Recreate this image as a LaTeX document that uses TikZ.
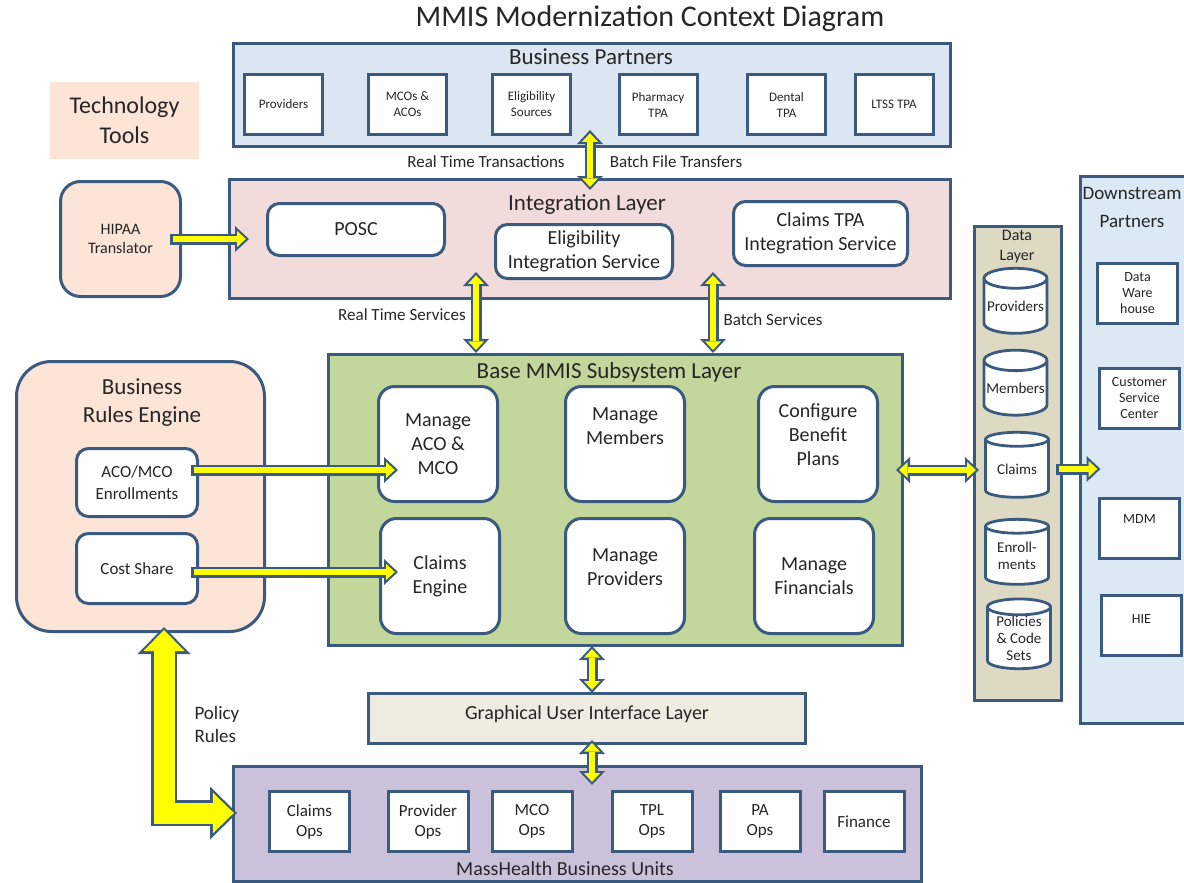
\documentclass[tikz,border=0pt]{standalone}
\usepackage{fontspec}
\setmainfont{Carlito}
\usepackage{tikz}
\usetikzlibrary{positioning}
\usetikzlibrary{arrows.meta}
\usetikzlibrary{shapes.geometric}

\definecolor{edge}{HTML}{3B5A80}
\definecolor{bpblue}{HTML}{DCE6F2}
\definecolor{intpink}{HTML}{F2DCDB}
\definecolor{peach}{HTML}{FCE4D6}
\definecolor{basegreen}{HTML}{C3D69B}
\definecolor{datatan}{HTML}{DDD9C3}
\definecolor{dsblue}{HTML}{DBE9F5}
\definecolor{guigrey}{HTML}{EEECE1}
\definecolor{masspurple}{HTML}{CCC1DA}
\definecolor{arrowyellow}{HTML}{FFFF00}

\newcommand{\fs}[2]{\fontsize{#1}{#2}\selectfont}
% fat block arrow: dark outline first, yellow body on top
\newcommand{\fatarrow}[6]{%
	\draw[#1out, shorten <=#5, shorten >=#6] #2 #3 #4;
	\draw[#1in, shorten <=#5+3pt, shorten >=#6+3.2pt] #2 #3 #4;
}

\begin{document}
\begin{tikzpicture}[x=1pt, y=-1pt,
	every node/.style={text=black!85},
	layer/.style={draw=edge, line width=3pt},
	laytitle/.style={font=\fs{23}{28}},
	lbl/.style={font=\fs{17}{20}},
	item/.style={draw=edge, line width=3pt, fill=white, align=center, inner sep=1pt},
	bpitem/.style={item, minimum width=78pt, minimum height=60pt, font=\fs{13}{16}},
	svc/.style={item, rounded corners=12pt, font=\fs{20}{24}},
	mgr/.style={item, rounded corners=16pt, minimum width=119pt, minimum height=115pt, font=\fs{20}{24}},
	rulebox/.style={item, rounded corners=12pt, minimum width=121pt, font=\fs{17}{22}},
	cyl/.style={cylinder, shape border rotate=90, aspect=0.35, draw=edge, line width=2.8pt, fill=white, minimum width=63pt, minimum height=65pt, inner sep=0pt, align=center, font=\fs{15}{17}},
	dsitem/.style={item, minimum width=80pt, minimum height=60pt, font=\fs{14}{16}},
	ops/.style={item, minimum width=80pt, minimum height=60pt, font=\fs{17}{20}},
	oneout/.style={draw=edge, line width=11pt, -{Triangle[length=14pt,width=26pt,line width=0pt]}},
	onein/.style={draw=arrowyellow, line width=6.6pt, -{Triangle[length=8.6pt,width=16pt,line width=0pt]}},
	bothout/.style={draw=edge, line width=11pt, {Triangle[length=14pt,width=26pt,line width=0pt]}-{Triangle[length=14pt,width=26pt,line width=0pt]}},
	bothin/.style={draw=arrowyellow, line width=6.6pt, {Triangle[length=8.6pt,width=16pt,line width=0pt]}-{Triangle[length=8.6pt,width=16pt,line width=0pt]}},
	bigout/.style={draw=edge, line width=26pt, line join=miter, {Triangle[length=27pt,width=53pt,line width=0pt]}-{Triangle[length=27pt,width=53pt,line width=0pt]}},
	bigin/.style={draw=arrowyellow, line width=21pt, line join=miter, {Triangle[length=21pt,width=41pt,line width=0pt]}-{Triangle[length=21pt,width=41pt,line width=0pt]}}]

	\useasboundingbox (0,0) rectangle (1184,883);
	\clip (0,0) rectangle (1184,883);

	\node[font=\fs{30}{36}] (title) at (650,19) {MMIS Modernization Context Diagram};
	\node[fill=peach, minimum width=149pt, minimum height=77pt, align=center, font=\fs{24}{30}] (tech) at (124.5,120.5) {Technology\\Tools};

	% business partners
	\node[layer, fill=bpblue, minimum width=717pt, minimum height=103pt] (bp) at (592,95) {};
	\node[laytitle] (bpT) at (591,57) {Business Partners};
	\node[bpitem] (prov) at (283.5,104.5) {Providers};
	\node[bpitem] (mcos) [right=43pt of prov] {MCOs \&\\ACOs};
	\node[bpitem] (eligsrc) [right=43pt of mcos] {Eligibility\\Sources};
	\node[bpitem] (pharm) [right=45.5pt of eligsrc] {Pharmacy\\TPA};
	\node[bpitem] (dental) [right=47.5pt of pharm] {Dental\\TPA};
	\node[bpitem] (ltss) [right=26.5pt of dental] {LTSS TPA};

	% integration layer
	\node[layer, fill=intpink, minimum width=721pt, minimum height=119pt] (integ) at (590,239) {};
	\node[laytitle] (integT) at (587,205) {Integration Layer};
	\node[svc, minimum width=177pt, minimum height=52pt] (posc) at (356,229.5) {POSC};
	\node[svc, minimum width=177pt, minimum height=54pt] (elig) at (584,251.5) {Eligibility\\Integration Service};
	\node[svc, minimum width=174pt, minimum height=64pt] (ctpa) at (820.5,233.5) {Claims TPA\\Integration Service};
	\node[fill=peach, draw=edge, line width=3pt, rounded corners=20pt, minimum width=120pt, minimum height=115pt, align=center, font=\fs{16}{19}] (hipaa) at (120.5,239) {HIPAA\\Translator};

	\node[lbl] (rtt) at (486,162) {Real Time Transactions};
	\node[lbl] (bft) at (676,162) {Batch File Transfers};
	\node[lbl] (rts) at (402,315) {Real Time Services};
	\node[lbl] (bsv) at (773,320) {Batch Services};

	% base MMIS
	\node[layer, fill=basegreen, minimum width=574pt, minimum height=291pt] (base) at (615.5,500) {};
	\node[laytitle] (baseT) at (609,372) {Base MMIS Subsystem Layer};
	\node[mgr] (maco) at (438,444) {Manage\\ACO \&\\MCO};
	\node[mgr] (mmem) [right=65pt of maco] {Manage\\Members\\[12pt]\mbox{}};
	\node[mgr] (cfg) [right=71pt of mmem] {Configure\\Benefit\\Plans\\[-6pt]\mbox{}};
	\node[mgr] (cle) at (440,576) {Claims\\Engine};
	\node[mgr] (mprov) [right=63pt of cle] {Manage\\Providers\\[-7pt]\mbox{}};
	\node[mgr] (mfin) [right=67pt of mprov] {Manage\\Financials};

	% business rules engine
	\node[fill=peach, draw=edge, line width=3pt, rounded corners=35pt, minimum width=248pt, minimum height=270pt] (bre) at (140.5,496.5) {};
	\node[laytitle, align=center] (breT) at (142,402.5) {Business\\Rules Engine};
	\node[rulebox, minimum height=68pt] (acoe) at (137,482.5) {ACO/MCO\\Enrollments};
	\node[rulebox, minimum height=70pt] (cost) [below=14pt of acoe] {Cost Share};

	% data layer
	\node[layer, fill=datatan, minimum width=87pt, minimum height=474pt] (data) at (1018,463.5) {};
	\node[font=\fs{16}{20}, align=center] (dataT) at (1017,247) {Data\\Layer};
	\node[cyl] (cpv) at (1015.5,306.5) {Providers};
	\node[cyl] (cmem) at (1015.5,388.5) {Members};
	\node[cyl] (cclm) at (1017,469) {Claims};
	\node[cyl] (cenr) at (1017,556) {Enroll-\\ments};
	\node[cyl] (cpol) at (1019,638.5) {Policies\\\& Code\\Sets};

	% downstream partners
	\node[layer, fill=dsblue, minimum width=140pt, minimum height=547pt] (ds) at (1150,450) {};
	\node[font=\fs{19}{28}, align=center] (dsT) at (1132,207) {Downstream\\Partners};
	\node[dsitem] (dwh) at (1137.5,293.5) {Data\\Ware\\house};
	\node[dsitem] (csc) at (1139.5,398.5) {Customer\\Service\\Center};
	\node[dsitem] (mdm) at (1139.5,528.5) {MDM\\[2pt]\mbox{}};
	\node[dsitem] (hie) at (1141.5,625) {HIE\\[-5pt]\mbox{}};

	% GUI and business units
	\node[layer, fill=guigrey, minimum width=437pt, minimum height=50pt, align=center, font=\fs{20}{24}] (gui) at (587,718.5) {Graphical User Interface Layer\\[-13pt]\mbox{}};
	\node[layer, fill=masspurple, minimum width=688pt, minimum height=115pt] (mass) at (577.5,824) {};
	\node[font=\fs{20}{24}] (massT) at (565,869) {MassHealth Business Units};
	\node[ops] (cops) at (309.5,821.5) {Claims\\Ops};
	\node[ops] (pops) [right=35.5pt of cops] {Provider\\Ops};
	\node[ops] (mops) [right=21pt of pops] {MCO\\Ops};
	\node[ops] (tops) [right=37pt of mops] {TPL\\Ops};
	\node[ops] (paops) [right=25pt of tops] {PA\\Ops};
	\node[ops] (fin) [right=21pt of paops] {Finance};
	\node[font=\fs{19}{23}, align=left, anchor=west] (policy) at (191,724) {Policy\\Rules};

	% arrows
	\fatarrow{both}{(integ.north)}{--}{(integ.north |- bp.south)}{-12pt}{-18pt}
	\fatarrow{both}{([xshift=-139.5pt]base.north)}{--}{([xshift=-139.5pt]base.north |- integ.south)}{0pt}{-28pt}
	\fatarrow{both}{([xshift=97.5pt]base.north)}{--}{([xshift=97.5pt]base.north |- integ.south)}{0pt}{-28pt}
	\fatarrow{one}{(hipaa.east)}{--}{(hipaa.east -| posc.west)}{-12pt}{17pt}
	\fatarrow{one}{([yshift=12.5pt]acoe.east)}{--}{([yshift=12.5pt]acoe.east -| maco.west)}{-8pt}{-21pt}
	\fatarrow{one}{([yshift=-3.5pt]cost.east)}{--}{([yshift=-3.5pt]cost.east -| cle.west)}{-8pt}{-19pt}
	\fatarrow{both}{([yshift=30pt]base.east)}{--}{([yshift=30pt]base.east -| data.west)}{-8pt}{-6pt}
	\fatarrow{one}{(cclm.east)}{--}{(cclm.east -| ds.west)}{6pt}{-22pt}
	\fatarrow{both}{([xshift=5pt]gui.north |- base.south)}{--}{([xshift=5pt]gui.north)}{-1pt}{-1pt}
	\fatarrow{both}{([xshift=5pt]gui.south)}{--}{([xshift=5pt]gui.south |- mass.north)}{-5pt}{-20pt}
	\fatarrow{big}{([xshift=23.5pt]bre.south)}{|-}{([yshift=11pt]mass.west)}{-6pt}{-5pt}
\end{tikzpicture}
\end{document}
